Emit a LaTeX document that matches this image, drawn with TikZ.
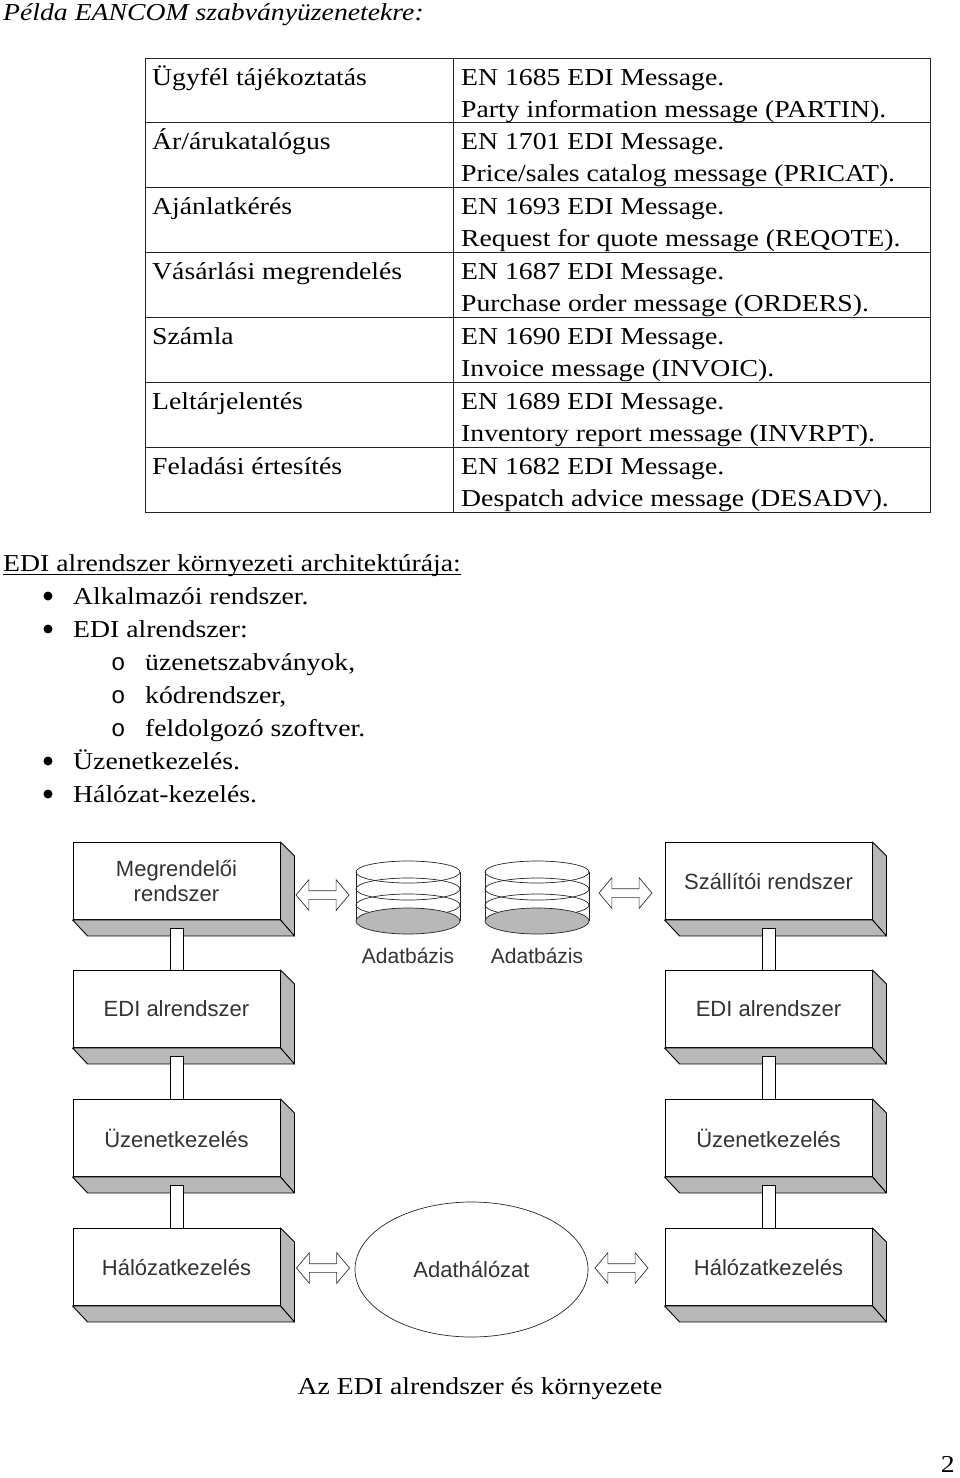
\documentclass[tikz,border=0pt]{standalone}
\usepackage{fontspec}
\setmainfont{Liberation Serif}[FakeStretch=1.14]
\newfontfamily\arialfont{Liberation Sans}
\newfontfamily\courfont{Liberation Mono}
\usetikzlibrary{shapes.geometric,shapes.arrows,calc}
\definecolor{shadowgrey}{RGB}{184,184,184}
\newcommand\doctext{\fontsize{24.3}{28}\selectfont}
\newcommand\diagtext{\arialfont\fontsize{22}{25}\selectfont}
\newcommand\shadowof[1]{%
  \filldraw[fill=shadowgrey, draw=black, line width=0.9pt, line join=round] (#1.north east) -- ++(14,14) -- ([shift={(14,16)}]#1.south east) -- (#1.south east) -- cycle;
  \filldraw[fill=shadowgrey, draw=black, line width=0.9pt, line join=round] (#1.south west) -- ([shift={(15,16)}]#1.south west) -- ([shift={(14,16)}]#1.south east) -- (#1.south east) -- cycle;}
\newcommand\dbdraw[1]{%
  \draw[dbline] (#1-52,872) -- (#1-52,921) (#1+52,872) -- (#1+52,921);
  \foreach \yy in {872,889,905} {\draw[dbline] (#1,\yy) ellipse [x radius=52, y radius=11];}
  \filldraw[dbline, fill=shadowgrey] (#1,921) ellipse [x radius=52, y radius=13];}
\begin{document}
\begin{tikzpicture}[x=1pt,y=-1pt,
  txt/.style={anchor=base west, inner sep=0, font=\doctext},
  tline/.style={draw=black!85, line width=0.9pt},
  frontbox/.style={draw=black, line width=0.9pt, fill=white, minimum width=207, minimum height=77, inner sep=0, align=center, font=\diagtext, text=black!80},
  barstyle/.style={draw=black, line width=0.9pt, fill=white},
  dbline/.style={draw=black!85, line width=0.7pt},
  hollowarrow/.style={double arrow, draw=black!80, line width=0.7pt, fill=white, minimum height=53, inner sep=4, double arrow head extend=11, double arrow tip angle=100},
  dlabel/.style={anchor=base, inner sep=0, font=\arialfont\fontsize{21}{21}\selectfont, text=black!80},
  dot/.style={circle, fill=black, inner sep=0, minimum size=9},
  subo/.style={anchor=base west, inner sep=0, font=\courfont\fontsize{24}{24}\selectfont}
]
\useasboundingbox (0,0) rectangle (960,1478);

% title
\node[txt] (title) at (3,20) {\itshape Példa EANCOM szabványüzenetekre:};

% table
\draw[tline] (145,58) rectangle (930,512);
\draw[tline] (453,58) -- (453,512);
\foreach \yy in {122.86,187.71,252.57,317.43,382.29,447.14} {\draw[tline] (145,\yy) -- (930,\yy);}

\node[txt] (c1) at (152,85) {Ügyfél tájékoztatás};
\node[txt] (d1a) at (461,85) {EN 1685 EDI Message.};
\node[txt] (d1b) at (461,117) {Party information message (PARTIN).};
\node[txt] (c2) at (152,149.86) {Ár/árukatalógus};
\node[txt] (d2a) at (461,149.86) {EN 1701 EDI Message.};
\node[txt] (d2b) at (461,181.86) {Price/sales catalog message (PRICAT).};
\node[txt] (c3) at (152,214.71) {Ajánlatkérés};
\node[txt] (d3a) at (461,214.71) {EN 1693 EDI Message.};
\node[txt] (d3b) at (461,246.71) {Request for quote message (REQOTE).};
\node[txt] (c4) at (152,279.57) {Vásárlási megrendelés};
\node[txt] (d4a) at (461,279.57) {EN 1687 EDI Message.};
\node[txt] (d4b) at (461,311.57) {Purchase order message (ORDERS).};
\node[txt] (c5) at (152,344.43) {Számla};
\node[txt] (d5a) at (461,344.43) {EN 1690 EDI Message.};
\node[txt] (d5b) at (461,376.43) {Invoice message (INVOIC).};
\node[txt] (c6) at (152,409.29) {Leltárjelentés};
\node[txt] (d6a) at (461,409.29) {EN 1689 EDI Message.};
\node[txt] (d6b) at (461,441.29) {Inventory report message (INVRPT).};
\node[txt] (c7) at (152,474.14) {Feladási értesítés};
\node[txt] (d7a) at (461,474.14) {EN 1682 EDI Message.};
\node[txt] (d7b) at (461,506.14) {Despatch advice message (DESADV).};

% list
\node[txt] (hdr) at (3,571) {EDI alrendszer környezeti architektúrája:};
\draw[line width=1pt] ([yshift=-3pt]hdr.base west) -- ([yshift=-3pt]hdr.base east);
\node[dot] (b1) at (48,596) {};
\node[txt] (i1) at (73,604) {Alkalmazói rendszer.};
\node[dot] (b2) at (48,629) {};
\node[txt] (i2) at (73,637) {EDI alrendszer:};
\node[subo] (o1) at (111,670) {o};
\node[txt] (s1) at (145,670) {üzenetszabványok,};
\node[subo] (o2) at (111,703) {o};
\node[txt] (s2) at (145,703) {kódrendszer,};
\node[subo] (o3) at (111,736) {o};
\node[txt] (s3) at (145,736) {feldolgozó szoftver.};
\node[dot] (b3) at (48,761) {};
\node[txt] (i3) at (73,769) {Üzenetkezelés.};
\node[dot] (b4) at (48,794) {};
\node[txt] (i4) at (73,802) {Hálózat-kezelés.};

% diagram boxes
\node[frontbox] (m1) at (176.5,881) {Megrendelői\\rendszer};
\node[frontbox] (e1) at (176.5,1009) {EDI alrendszer};
\node[frontbox] (u1) at (176.5,1138) {Üzenetkezelés};
\node[frontbox] (h1) at (176.5,1267) {Hálózatkezelés};
\node[frontbox] (m2) at (768.5,881) {Szállítói rendszer};
\node[frontbox] (e2) at (768.5,1009) {EDI alrendszer};
\node[frontbox] (u2) at (768.5,1138) {Üzenetkezelés};
\node[frontbox] (h2) at (768.5,1267) {Hálózatkezelés};
\foreach \n in {m1,e1,u1,h1,m2,e2,u2,h2} {\shadowof{\n}}

% connecting bars
\draw[barstyle] ($(m1.south)+(-6.5,8)$) rectangle ($(e1.north)+(6.5,0)$);
\draw[barstyle] ($(e1.south)+(-6.5,8)$) rectangle ($(u1.north)+(6.5,0)$);
\draw[barstyle] ($(u1.south)+(-6.5,8)$) rectangle ($(h1.north)+(6.5,0)$);
\draw[barstyle] ($(m2.south)+(-6.5,8)$) rectangle ($(e2.north)+(6.5,0)$);
\draw[barstyle] ($(e2.south)+(-6.5,8)$) rectangle ($(u2.north)+(6.5,0)$);
\draw[barstyle] ($(u2.south)+(-6.5,8)$) rectangle ($(h2.north)+(6.5,0)$);

% databases
\dbdraw{408}
\dbdraw{537}
\coordinate (db1) at (408,897);
\coordinate (db2) at (537,897);
\node[dlabel] (l1) at (408,963) {Adatbázis};
\node[dlabel] (l2) at (537,963) {Adatbázis};

% network
\node[ellipse, draw=black!85, line width=0.7pt, minimum width=233, minimum height=135, inner sep=0, font=\diagtext, text=black!80] (net) at (471.5,1269.5) {Adathálózat};

% hollow double arrows
\node[hollowarrow] (a1) at (322.5,895) {};
\node[hollowarrow] (a2) at (625.5,893) {};
\node[hollowarrow] (a3) at (323,1268) {};
\node[hollowarrow] (a4) at (621.5,1268) {};

% caption and page number
\node[anchor=base, inner sep=0, font=\doctext] (cap) at (480,1394) {Az EDI alrendszer és környezete};
\node[anchor=base east, inner sep=0, font=\doctext] (pg) at (955,1472) {2};
\end{tikzpicture}
\end{document}
